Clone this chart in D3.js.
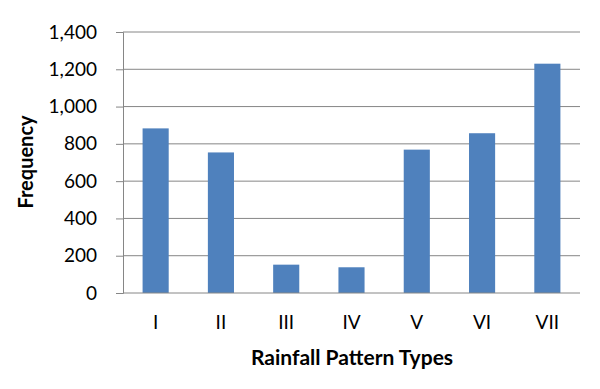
<!DOCTYPE html>
<html>
<head>
<meta charset="utf-8">
<script src="https://cdn.jsdelivr.net/npm/d3@7"></script>
<style>
  body { margin: 0; background: #fff; }
  text { font-family: Lato, "Open Sans", sans-serif; fill: #000; }
</style>
</head>
<body>
<div id="chart"></div>
<script>
// Data
const categories = ["I", "II", "III", "IV", "V", "VI", "VII"];
const frequency = [883, 754, 152, 138, 769, 857, 1230];
const yTicks = [0, 200, 400, 600, 800, 1000, 1200, 1400];

const WIDTH = 600;
const HEIGHT = 389;
const margin = { top: 32, right: 20, bottom: 96, left: 123 };

const svg = d3
  .select("#chart")
  .append("svg")
  .attr("width", WIDTH)
  .attr("height", HEIGHT);

const x = d3
  .scaleBand()
  .domain(categories)
  .range([margin.left, WIDTH - margin.right])
  .paddingInner(0.6)
  .paddingOuter(0.3);

const y = d3
  .scaleLinear()
  .domain([0, 1400])
  .range([HEIGHT - margin.bottom, margin.top]);

// Gridlines + y axis
const yAxis = svg
  .append("g")
  .attr("transform", "translate(" + margin.left + ",0)")
  .call(
    d3
      .axisLeft(y)
      .tickValues(yTicks)
      .tickFormat(d3.format(","))
      .tickSize(7)
      .tickPadding(19)
  );
yAxis.select(".domain").attr("stroke", "#868686");
yAxis.selectAll(".tick line").attr("stroke", "#868686");
yAxis.selectAll(".tick text").attr("font-size", 19);

svg
  .append("g")
  .selectAll("line")
  .data(yTicks.slice(1))
  .enter()
  .append("line")
  .attr("x1", margin.left)
  .attr("x2", WIDTH - margin.right)
  .attr("y1", (d) => y(d))
  .attr("y2", (d) => y(d))
  .attr("stroke", "#868686");

// Bars
svg
  .append("g")
  .selectAll("rect")
  .data(frequency)
  .enter()
  .append("rect")
  .attr("x", (d, i) => x(categories[i]))
  .attr("y", (d) => y(d))
  .attr("width", x.bandwidth())
  .attr("height", (d) => y(0) - y(d))
  .attr("fill", "#4f81bd");

// X axis
const xAxis = svg
  .append("g")
  .attr("transform", "translate(0," + y(0) + ")")
  .call(d3.axisBottom(x).tickSize(0).tickPadding(23));
xAxis.select(".domain").remove();
xAxis.selectAll(".tick text").attr("font-size", 19);

svg
  .append("line")
  .attr("x1", margin.left)
  .attr("x2", WIDTH - margin.right)
  .attr("y1", y(0))
  .attr("y2", y(0))
  .attr("stroke", "#868686");

// Axis titles
svg
  .append("text")
  .attr("x", 352)
  .attr("y", 365)
  .attr("text-anchor", "middle")
  .attr("font-size", 21)
  .attr("font-weight", "bold")
  .text("Rainfall Pattern Types");

svg
  .append("text")
  .attr("transform", "translate(33,162) rotate(-90)")
  .attr("text-anchor", "middle")
  .attr("font-size", 20)
  .attr("font-weight", "bold")
  .text("Frequency");
</script>
</body>
</html>
